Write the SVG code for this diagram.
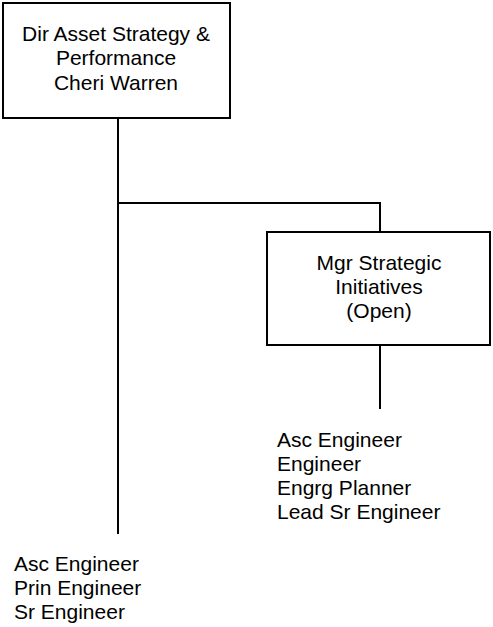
<svg xmlns="http://www.w3.org/2000/svg" width="493" height="627" viewBox="0 0 493 627">
<style>
.box{fill:#fff;stroke:#000;stroke-width:2}
.ln{fill:none;stroke:#000;stroke-width:2}
text{font-family:"Liberation Sans",Arial,sans-serif;font-size:21px;fill:#000}
.c{text-anchor:middle}
</style>
<rect width="493" height="627" fill="#fff"/>
<g id="connectors">
<path class="ln" d="M118 118V534M118 203H380V232M380 345V409"/>
</g>
<g id="dir">
<rect class="box" x="3" y="3" width="227" height="115"/>
<text class="c" x="116" y="41">Dir Asset Strategy &amp;</text>
<text class="c" x="116" y="65">Performance</text>
<text class="c" x="116" y="90">Cheri Warren</text>
</g>
<g id="mgr">
<rect class="box" x="267" y="232" width="223" height="113"/>
<text class="c" x="379" y="270">Mgr Strategic</text>
<text class="c" x="379" y="294">Initiatives</text>
<text class="c" x="379" y="318">(Open)</text>
</g>
<g id="mgr-staff">
<text x="277" y="447">Asc Engineer</text>
<text x="277" y="471">Engineer</text>
<text x="277" y="495">Engrg Planner</text>
<text x="277" y="519">Lead Sr Engineer</text>
</g>
<g id="dir-staff">
<text x="14" y="571">Asc Engineer</text>
<text x="14" y="595">Prin Engineer</text>
<text x="14" y="619">Sr Engineer</text>
</g>
</svg>
